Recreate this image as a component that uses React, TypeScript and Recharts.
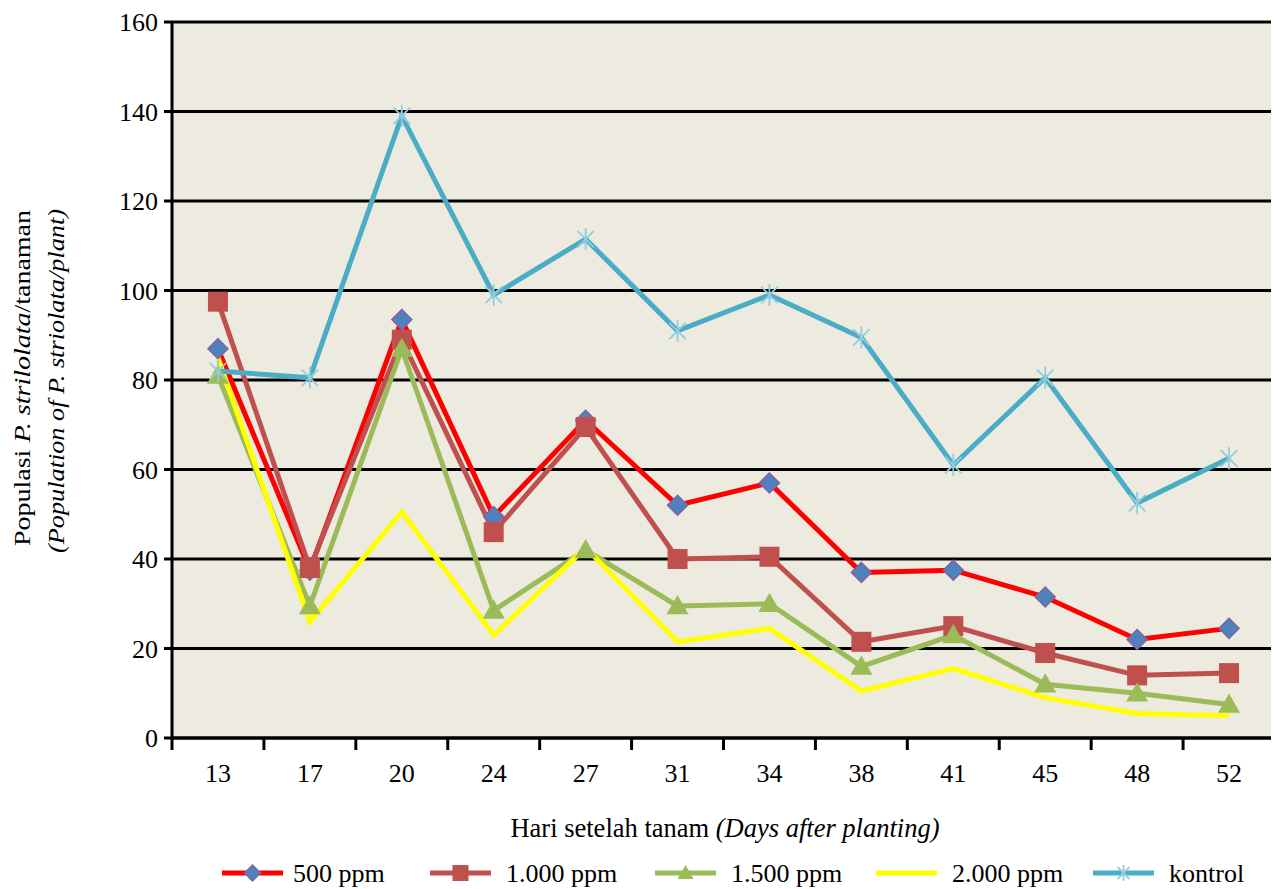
import React from 'react';
import { LineChart, Line, XAxis, YAxis, CartesianGrid } from 'recharts';

const days = ['13', '17', '20', '24', '27', '31', '34', '38', '41', '45', '48', '52'];
const ppm500 = [87, 37.5, 93.5, 49.5, 71, 52, 57, 37, 37.5, 31.5, 22, 24.5];
const ppm1000 = [97.5, 38, 89, 46, 69.5, 40, 40.5, 21.5, 25, 19, 14, 14.5];
const ppm1500 = [81, 29.5, 87, 28.5, 42, 29.5, 30, 16, 23, 12, 10, 7.5];
const ppm2000 = [85, 26, 50.5, 23, 42.5, 21.5, 24.5, 10.5, 15.5, 9, 5.5, 5];
const kontrol = [82, 80.5, 139, 99, 111.5, 91, 99, 89.5, 61, 80.5, 52.5, 62.5];
const yTicks = [0, 20, 40, 60, 80, 100, 120, 140, 160];

const seriesNames = ['500 ppm', '1.000 ppm', '1.500 ppm', '2.000 ppm', 'kontrol'];
const seriesKeys = ['p500', 'p1000', 'p1500', 'p2000', 'ctrl'];

const data = days.map((d, i) => ({
  day: d,
  p500: ppm500[i],
  p1000: ppm1000[i],
  p1500: ppm1500[i],
  p2000: ppm2000[i],
  ctrl: kontrol[i],
}));

const CW = 1271;
const CH = 881;
const PLOT_LEFT = 164;
const PLOT_RIGHT = 1267;
const PLOT_W = PLOT_RIGHT - PLOT_LEFT;
const HALF = PLOT_W / 24;
const SERIF = '"Liberation Serif", "Times New Roman", serif';

const lineColors = ['#FF0000', '#C0504D', '#9BBB59', '#FFFF00', '#4BACC6'];

type MP = { cx: number; cy: number; s?: number };

const Diamond = ({ cx, cy, s = 10 }: MP) => (
  <polygon
    points={`${cx},${cy - s} ${cx + s},${cy} ${cx},${cy + s} ${cx - s},${cy}`}
    fill="#4F81BD"
    stroke="#8064A2"
    strokeWidth={1.5}
  />
);
const Square = ({ cx, cy, s = 10 }: MP) => (
  <rect x={cx - s} y={cy - s} width={2 * s} height={2 * s} fill="#C0504D" />
);
const Triangle = ({ cx, cy, s = 11 }: MP) => (
  <polygon
    points={`${cx},${cy - s} ${cx + s},${cy + s * 0.75} ${cx - s},${cy + s * 0.75}`}
    fill="#9BBB59"
  />
);
const Star = ({ cx, cy, s = 11 }: MP) => {
  const d = s * 0.75;
  return (
    <g stroke="#93CDDD" strokeWidth={1.8}>
      <line x1={cx} y1={cy - s} x2={cx} y2={cy + s} />
      <line x1={cx - d} y1={cy - d} x2={cx + d} y2={cy + d} />
      <line x1={cx - d} y1={cy + d} x2={cx + d} y2={cy - d} />
    </g>
  );
};
const NoMark = (_: MP) => null;

const markers = [Diamond, Square, Triangle, NoMark, Star];

const makeDot = (k: number) => (p: any) => {
  const M = markers[k];
  if (p.cx == null || p.cy == null) return <g key={`m${k}-${p.index}`} />;
  return (
    <g key={`m${k}-${p.index}`}>
      <M cx={p.cx} cy={p.cy} />
    </g>
  );
};

const XTick = (props: any) => {
  const { x, y, payload, index } = props;
  return (
    <g>
      <line x1={x - HALF} y1={y} x2={x - HALF} y2={y + 12} stroke="#000" strokeWidth={3} />
      {index === days.length - 1 && (
        <line x1={x + HALF} y1={y} x2={x + HALF} y2={y + 12} stroke="#000" strokeWidth={3} />
      )}
      <text x={x} y={y + 44} textAnchor="middle" fontSize={26} fontFamily={SERIF} fill="#000">
        {payload.value}
      </text>
    </g>
  );
};

// legend layout (overlay coordinates)
const legendLineX = [214, 422, 647, 868, 1085];
const legendLineW = 61;
const legendY = 865;

export default function App() {
  return (
    <div style={{ position: 'relative', width: CW, height: CH }}>
      <LineChart
        width={CW}
        height={800}
        data={data}
        margin={{ top: 14, right: CW - PLOT_RIGHT, bottom: 30, left: 84 }}
      >
        <CartesianGrid
          horizontal
          vertical={false}
          stroke="#000"
          strokeWidth={3}
          fill="#EDEAE0"
          fillOpacity={1}
        />
        <XAxis
          dataKey="day"
          height={40}
          padding={{ left: HALF, right: HALF }}
          axisLine={{ stroke: '#000', strokeWidth: 3 }}
          tickLine={false}
          tickSize={0}
          tickMargin={0}
          interval={0}
          tick={<XTick />}
        />
        <YAxis
          width={80}
          domain={[0, 160]}
          ticks={yTicks}
          interval={0}
          axisLine={{ stroke: '#000', strokeWidth: 3 }}
          tickLine={{ stroke: '#000', strokeWidth: 3 }}
          tickSize={8}
          tickMargin={6}
          tick={{ fill: '#000', fontSize: 26, fontFamily: SERIF }}
        />
        {seriesKeys.map((k, i) => (
          <Line
            key={k}
            type="linear"
            dataKey={k}
            name={seriesNames[i]}
            stroke={lineColors[i]}
            strokeWidth={5}
            dot={makeDot(i)}
            activeDot={false}
            isAnimationActive={false}
          />
        ))}
      </LineChart>
      <svg
        width={CW}
        height={CH}
        style={{ position: 'absolute', left: 0, top: 0, pointerEvents: 'none' }}
      >
        <text
          transform="translate(22,370) rotate(-90)"
          textAnchor="middle"
          fontSize={24}
          fontFamily={SERIF}
          fill="#000"
          textLength={336}
          lengthAdjust="spacingAndGlyphs"
        >
          Populasi <tspan fontStyle="italic">P. strilolata</tspan>/tanaman
        </text>
        <text
          transform="translate(56,373) rotate(-90)"
          textAnchor="middle"
          fontSize={24}
          fontFamily={SERIF}
          fontStyle="italic"
          fill="#000"
          textLength={344}
          lengthAdjust="spacingAndGlyphs"
        >
          (Population of P. striolata/plant)
        </text>
        <text x={717} y={829} textAnchor="middle" fontSize={26.5} fontFamily={SERIF} fill="#000">
          Hari setelah tanam <tspan fontStyle="italic">(Days after planting)</tspan>
        </text>
        {seriesNames.map((n, i) => {
          const M = markers[i];
          const x0 = legendLineX[i];
          const cx = x0 + legendLineW / 2;
          return (
            <g key={n}>
              <line
                x1={x0}
                y1={legendY}
                x2={x0 + legendLineW}
                y2={legendY}
                stroke={lineColors[i]}
                strokeWidth={5}
              />
              <M cx={cx} cy={legendY} s={8} />
              <text
                x={x0 + legendLineW + 10 + (i === 0 ? 0 : 5)}
                y={legendY + 9}
                fontSize={26}
                fontFamily={SERIF}
                fill="#000"
              >
                {n}
              </text>
            </g>
          );
        })}
      </svg>
    </div>
  );
}
